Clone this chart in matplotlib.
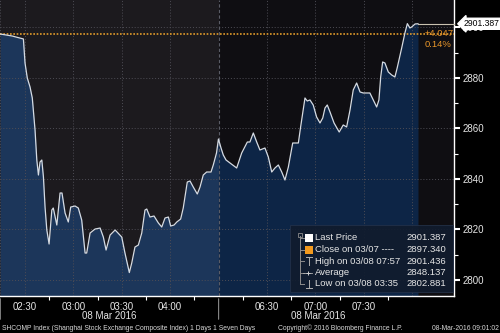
import numpy as np
import matplotlib
matplotlib.use('Agg')
import matplotlib.pyplot as plt
import matplotlib.transforms as mtransforms
from matplotlib.patches import Rectangle
from matplotlib.lines import Line2D

plt.rcParams['font.family'] = ['Liberation Sans', 'DejaVu Sans']

# minutes after 02:00 CET, afternoon session shifted left by 90 min (lunch break cut out)
t_min = [14.6, 22.1, 29.1, 30.1, 31.5, 33.2, 34.6, 36.3, 37.4, 38.4, 39.4, 40.5, 41.5, 42.5,
         43.6, 45.0, 46.7, 47.6, 49.8, 51.8, 53.0, 54.9, 56.9, 58.4, 61.1, 63.1, 65.2, 67.3,
         68.3, 70.4, 73.5, 76.6, 78.6, 80.3, 82.8, 85.9, 87.1, 90.0, 92.0, 94.7, 96.2, 98.2,
         100.3, 102.4, 104.4, 105.5, 107.5, 110.0, 112.7, 114.8, 116.8, 118.9, 120.3, 122.4,
         124.1, 126.5, 128.1, 130.6, 132.3, 134.3, 136.8, 138.5, 140.5, 142.6, 145.3, 146.7,
         148.7, 149.9, 151.5, 152.9, 154.6, 157.1, 161.2, 164.3, 167.8, 169.4, 171.5, 173.6,
         175.6, 178.7, 180.8, 182.9, 184.9, 187.0, 189.1, 191.1, 193.2, 195.9, 197.9, 199.4,
         200.8, 203.5, 204.9, 206.6, 208.6, 210.7, 212.8, 214.5, 215.9, 217.3, 219.0, 221.5,
         224.7, 227.2, 229.3, 231.4, 233.4, 235.5, 237.6, 239.6, 243.7, 245.8, 247.9, 249.3,
         250.4, 251.6, 253.0, 255.1, 257.2, 259.2, 260.6, 263.4, 265.4, 266.9, 268.5, 269.6,
         271.7, 273.5]
price = [2897.35, 2896.55, 2895.37, 2885.86, 2879.92, 2876.36, 2872.00, 2859.33, 2847.45,
         2841.50, 2846.65, 2847.45, 2840.70, 2828.83, 2819.72, 2814.18, 2827.64, 2828.44,
         2821.70, 2834.38, 2834.38, 2826.46, 2822.90, 2828.83, 2829.23, 2828.44, 2823.68,
         2810.61, 2810.61, 2818.53, 2820.12, 2820.51, 2816.95, 2811.80, 2817.74, 2819.72,
         2818.93, 2816.95, 2810.61, 2802.88, 2806.65, 2812.99, 2813.78, 2818.53, 2827.64,
         2828.04, 2824.87, 2825.27, 2822.50, 2820.91, 2824.48, 2824.87, 2821.31, 2821.70,
         2822.89, 2824.08, 2828.44, 2838.73, 2839.13, 2836.75, 2833.98, 2836.75, 2841.50,
         2842.69, 2842.69, 2845.46, 2850.22, 2855.76, 2852.20, 2849.43, 2847.45, 2846.26,
         2844.28, 2850.22, 2854.57, 2854.57, 2858.14, 2854.57, 2851.41, 2852.20, 2848.63,
         2842.69, 2844.28, 2845.47, 2842.69, 2839.52, 2844.67, 2854.18, 2854.18, 2854.18,
         2860.52, 2872.00, 2870.81, 2871.21, 2869.23, 2864.48, 2862.10, 2864.08, 2868.04,
         2869.23, 2866.46, 2862.10, 2858.53, 2861.31, 2860.52, 2867.25, 2875.17, 2877.94,
         2874.38, 2873.98, 2873.98, 2871.21, 2868.44, 2871.21, 2880.32, 2886.26, 2885.86,
         2882.30, 2881.11, 2880.32, 2883.88, 2891.80, 2897.74, 2901.44, 2899.72, 2900.12,
         2901.31, 2901.387]

prev_close = 2897.340
last_price = 2901.387
change = '+4.047'
change_pct = '0.14%'

tick_pos = [30, 60, 90, 120, 180, 210, 240]
tick_lab = ['02:30', '03:00', '03:30', '04:00', '06:30', '07:00', '07:30']
grid_pos = [30, 60, 90, 120, 180, 210, 240, 270]
session_break = 150
y_ticks = [2800, 2820, 2840, 2860, 2880, 2900]

legend_rows = [('Last Price', '2901.387'),
               ('Close on 03/07 ----', '2897.340'),
               ('High on 03/08 07:57', '2901.436'),
               ('Average', '2848.137'),
               ('Low on 03/08 03:35', '2802.881')]

W, H = 500, 333
fig = plt.figure(figsize=(W / 100, H / 100), dpi=100, facecolor='black')
ax = fig.add_axes([0, 1 - 296 / H, 454 / W, 296 / H])
ax.set_facecolor('#0f0e12')
x0, x1 = 14.6, 295.8
ax.set_xlim(x0, x1)
ax.set_ylim(2793.6, 2910.8)

# morning session shading
ax.axvspan(x0, session_break, color='#1c1a1e', zorder=0, lw=0)

t = np.array(t_min)
p = np.array(price)
am = t <= session_break
ax.fill_between(t[am], p[am], 2793.6, color='#1c365a', lw=0, zorder=1)
pm = t >= session_break - 0.1
ax.fill_between(t[pm], p[pm], 2793.6, color='#0d2546', lw=0, zorder=1)
ax.plot(t, p, color='#d5dbe3', lw=0.9, zorder=4)
ax.plot([t[-1], x1], [last_price, last_price], color='#c9c2b0', lw=0.8, zorder=4, clip_on=False)

# grid
for g in grid_pos:
    ax.axvline(g, color='#4e4d55', lw=0.7, ls=(0, (1, 2)), zorder=2)
for yv in y_ticks:
    ax.axhline(yv, color='#4e4d55', lw=0.7, ls=(0, (1, 2)), zorder=2)
ax.axvline(session_break, color='#5a5c66', lw=0.8, ls=(0, (3, 2)), zorder=2)
ax.axvline(x0 + 0.3, color='#4e4d55', lw=0.7, ls=(0, (1, 2)), zorder=2)

# previous close
ax.axhline(prev_close, color='#e09a2a', lw=1.2, ls=(0, (1, 1)), zorder=3)
ax.text(277.5, prev_close + 0.3, change, color='#e8962a', fontsize=6.8, va='center', ha='left', zorder=5)
ax.text(277.5, prev_close - 4.1, change_pct, color='#e8962a', fontsize=6.8, va='center', ha='left', zorder=5)

# axes styling
for s in ['top', 'left']:
    ax.spines[s].set_visible(False)
for s in ['right', 'bottom']:
    ax.spines[s].set_color('white')
    ax.spines[s].set_linewidth(1)
ax.yaxis.tick_right()
ax.set_yticks(y_ticks)
ax.set_yticks([2810, 2830, 2850, 2870, 2890], minor=True)
ax.tick_params(axis='y', which='major', colors='white', length=4, width=1.5, pad=2, labelsize=7,
               labelcolor='#e6e6e6')
ax.tick_params(axis='y', which='minor', colors='white', length=3, width=0.8)
ax.set_xticks(tick_pos)
ax.set_xticklabels(tick_lab)
ax.set_xticks([45, 75, 105, 135, 165, 195, 225, 255], minor=True)
ax.tick_params(axis='x', which='major', length=0, pad=4, labelsize=7, labelcolor='#e6e6e6')
ax.tick_params(axis='x', which='minor', colors='white', length=3, width=0.8, direction='out')

for xm in [(x0 + session_break) / 2, (session_break + t[-1]) / 2]:
    ax.annotate('08 Mar 2016', xy=(xm, 0), xycoords=('data', 'axes fraction'),
                xytext=(0, -14.5), textcoords='offset points', ha='center', va='center',
                color='#e6e6e6', fontsize=7, annotation_clip=False)

# session dividers below axis
for xv in [x0 + 0.2, session_break]:
    ax.annotate('', xy=(xv, 0), xycoords=('data', 'axes fraction'), xytext=(xv, -0.088),
                textcoords=('data', 'axes fraction'),
                arrowprops=dict(arrowstyle='-', color='#8a8a8a', lw=0.8), annotation_clip=False)

# last price label on axis
trans = mtransforms.blended_transform_factory(ax.transAxes, ax.transData)
ax.text(1.021, last_price, '2901.387', transform=trans, color='black', fontsize=6.2,
        va='center', ha='left', zorder=10,
        bbox=dict(boxstyle='larrow,pad=0.12', fc='white', ec='white'))

# legend box
def fp(px, py):
    return px / W, 1 - py / H

lx, ly = fp(290, 292)
box = Rectangle((lx, ly), (453 - 290) / W, (292 - 225) / H, transform=fig.transFigure,
                fc='#111c2e', ec='#24324a', lw=0.6, alpha=0.92, zorder=20)
fig.patches.append(box)
rows_y = [238, 249.5, 261, 272.5, 284]
fig.add_artist(Line2D([300 / W, 300 / W], [1 - 236 / H, 1 - 284 / H], color='#8c8c8c', lw=0.7,
                      transform=fig.transFigure, zorder=21))
fig.add_artist(Rectangle(fp(298, 237), 4 / W, 4 / H, transform=fig.transFigure, fc='none',
                         ec='#8c8c8c', lw=0.6, zorder=22))
for i, (lab, val) in enumerate(legend_rows):
    ry = rows_y[i]
    fig.add_artist(Line2D([300 / W, 303.5 / W], [1 - ry / H] * 2, color='#8c8c8c', lw=0.7,
                          transform=fig.transFigure, zorder=21))
    fig.text(315 / W, 1 - ry / H, lab, color='#e6e6e6', fontsize=6.8, va='center', ha='left', zorder=23)
    fig.text(446 / W, 1 - ry / H, val, color='#e6e6e6', fontsize=6.8, va='center', ha='right', zorder=23)
sq_colors = ['white', '#f39a1e']
for i, c in enumerate(sq_colors):
    ry = rows_y[i]
    fig.add_artist(Rectangle(fp(305, ry + 4), 8 / W, 8 / H, transform=fig.transFigure,
                             fc=c, ec='none', zorder=22))
# high / average / low symbols
sy = rows_y[2]
fig.add_artist(Line2D([306 / W, 312 / W], [1 - (sy - 4) / H] * 2, color='#b0b0b0', lw=0.7,
                      transform=fig.transFigure, zorder=22))
fig.add_artist(Line2D([309 / W, 309 / W], [1 - (sy - 4) / H, 1 - (sy + 4) / H], color='#b0b0b0',
                      lw=0.7, transform=fig.transFigure, zorder=22))
sy = rows_y[3]
fig.add_artist(Line2D([303 / W, 312 / W], [1 - sy / H] * 2, color='#b0b0b0', lw=0.6,
                      transform=fig.transFigure, zorder=22))
fig.add_artist(Line2D([308 / W], [1 - sy / H], color='#d0d0d0', marker='+', ms=2.5, mew=0.7,
                      transform=fig.transFigure, zorder=22))
sy = rows_y[4]
fig.add_artist(Line2D([306 / W, 312 / W], [1 - (sy + 4) / H] * 2, color='#b0b0b0', lw=0.7,
                      transform=fig.transFigure, zorder=22))
fig.add_artist(Line2D([309 / W, 309 / W], [1 - (sy - 4) / H, 1 - (sy + 4) / H], color='#b0b0b0',
                      lw=0.7, transform=fig.transFigure, zorder=22))

# footer
fy = 1 - 328 / H
fig.text(2 / W, fy, 'SHCOMP Index (Shanghai Stock Exchange Composite Index) 1 Days 1 Seven Days',
         color='#d8d8d8', fontsize=4.85, va='center', ha='left')
fig.text(278 / W, fy, 'Copyright\u00a9 2016 Bloomberg Finance L.P.', color='#d8d8d8', fontsize=4.85,
         va='center', ha='left')
fig.text(499 / W, fy, '08-Mar-2016 09:01:02', color='#d8d8d8', fontsize=4.85, va='center', ha='right')

fig.savefig('out.png', dpi=100, facecolor='black')
